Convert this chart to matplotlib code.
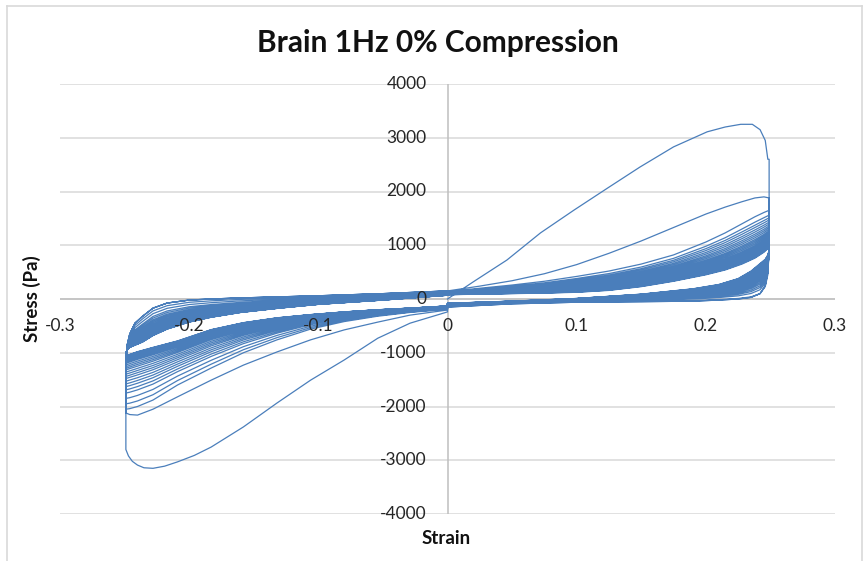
import matplotlib.pyplot as plt
from matplotlib.transforms import offset_copy

# --- strain nodes (shared by every cycle) ---
# positive half, strain increasing towards +0.25
strain_load_pos = [0.0, 0.025, 0.05, 0.075, 0.1, 0.125, 0.15, 0.175, 0.2, 0.215, 0.228, 0.238, 0.245, 0.249]
# positive half, strain decreasing from +0.25
strain_unload_pos = [0.249, 0.249, 0.248, 0.246, 0.242, 0.235, 0.225, 0.21, 0.19, 0.15, 0.1, 0.05, 0.0]
# negative half, strain decreasing towards -0.25
strain_load_neg = [0.0, -0.029, -0.054, -0.080, -0.106, -0.132, -0.158, -0.183, -0.209, -0.228, -0.240, -0.246, -0.249]
# negative half, strain increasing from -0.25
strain_unload_neg = [-0.249, -0.249, -0.248, -0.246, -0.242, -0.236, -0.228, -0.217, -0.2, -0.183, -0.16, -0.13, -0.1, -0.05, 0.0]

# --- first cycle (Pa) ---
strain_first_up = [0.0, 0.02, 0.046, 0.072, 0.098, 0.124, 0.149, 0.175, 0.201, 0.215, 0.227, 0.236, 0.242, 0.246, 0.248]
stress_first_up = [0, 320, 725, 1230, 1655, 2065, 2455, 2830, 3110, 3200, 3250, 3250, 3150, 2950, 2600]
stress_first_unload_pos = [2600, 1000, 500, 250, 100, 30, 0, -20, -40, -50, -60, -90, -150]
strain_first_down = [0.0, -0.029, -0.054, -0.080, -0.106, -0.132, -0.158, -0.183, -0.196, -0.209,
                     -0.219, -0.228, -0.235, -0.240, -0.244, -0.247, -0.249]
stress_first_down = [-240, -450, -730, -1135, -1510, -1935, -2380, -2755, -2910, -3030,
                     -3110, -3150, -3140, -3090, -3020, -2920, -2800]
stress_first_unload_neg = [-2800, -1300, -855, -650, -450, -320, -170, -75, -20, 0, 20, 40, 60, 100, 150]

# --- second cycle ---
stress_c2_load_pos = [150, 240, 340, 470, 640, 850, 1080, 1330, 1580, 1710, 1810, 1880, 1900, 1880]
stress_c2_unload_pos = [1880, 1000, 500, 250, 100, 30, 0, -20, -40, -50, -60, -90, -150]
stress_c2_load_neg = [-205, -300, -430, -575, -760, -985, -1230, -1510, -1820, -2050, -2160, -2150, -2120]
stress_c2_unload_neg = [-2120, -1300, -855, -650, -450, -320, -170, -75, -20, 0, 20, 40, 60, 100, 150]

# --- outer edge of the settled bundle (third cycle) ---
stress_top_load_pos = [140, 200, 260, 330, 420, 520, 650, 820, 1060, 1230, 1400, 1530, 1610, 1650]
stress_top_unload_pos = [1650, 900, 450, 230, 100, 40, 10, -10, -30, -40, -50, -80, -140]
stress_top_load_neg = [-190, -250, -320, -420, -560, -760, -1000, -1285, -1600, -1880, -2000, -2040, -2050]
stress_top_unload_neg = [-2050, -1300, -855, -650, -450, -320, -170, -75, -20, 0, 20, 40, 60, 100, 150]

# --- last cycle ---
stress_last_load_pos = [80, 90, 100, 110, 125, 160, 230, 330, 450, 540, 650, 760, 870, 960]
stress_last_unload_pos = [960, 900, 820, 740, 660, 520, 380, 270, 190, 90, 10, -40, -80]
stress_last_load_neg = [-130, -170, -200, -240, -290, -350, -440, -570, -780, -900, -980, -1030, -1060]
stress_last_unload_neg = [-1060, -1000, -950, -900, -860, -800, -680, -560, -430, -340, -250, -170, -100, -20, 70]

# peak stress at +0.25 and -0.25 for cycles 3 onwards
peak_pos = [1650, 1560, 1510, 1470, 1430, 1395, 1360, 1330, 1300, 1270, 1245, 1220, 1195, 1170,
            1150, 1130, 1110, 1090, 1070, 1055, 1040, 1025, 1010, 1000, 990, 980, 970, 960]
peak_neg = [-2050, -1950, -1850, -1750, -1690, -1630, -1580, -1530, -1480, -1440, -1400, -1360, -1320, -1290,
            -1260, -1230, -1200, -1180, -1160, -1140, -1120, -1100, -1090, -1080, -1075, -1070, -1065, -1060]

y_ticks = [-4000, -3000, -2000, -1000, 0, 1000, 2000, 3000, 4000]
x_ticks = [-0.3, -0.2, -0.1, 0, 0.1, 0.2, 0.3]


def mix(a, b, w):
    return [w * p + (1 - w) * q for p, q in zip(a, b)]


# assemble the full strain / stress record
strain = []
stress = []

def add(xs, ys):
    strain.extend(xs)
    stress.extend(ys)

add(strain_first_up, stress_first_up)
add(strain_unload_pos, stress_first_unload_pos)
add(strain_first_down, stress_first_down)
add(strain_unload_neg, stress_first_unload_neg)

add(strain_load_pos, stress_c2_load_pos)
add(strain_unload_pos, stress_c2_unload_pos)
add(strain_load_neg, stress_c2_load_neg)
add(strain_unload_neg, stress_c2_unload_neg)

for pp, pn in zip(peak_pos, peak_neg):
    wp = (pp - stress_last_load_pos[-1]) / (stress_top_load_pos[-1] - stress_last_load_pos[-1])
    wn = (pn - stress_last_load_neg[-1]) / (stress_top_load_neg[-1] - stress_last_load_neg[-1])
    add(strain_load_pos, mix(stress_top_load_pos, stress_last_load_pos, wp))
    add(strain_unload_pos, mix(stress_top_unload_pos, stress_last_unload_pos, wp))
    add(strain_load_neg, mix(stress_top_load_neg, stress_last_load_neg, wn))
    add(strain_unload_neg, mix(stress_top_unload_neg, stress_last_unload_neg, wn))

plt.rcParams['font.family'] = ['Lato', 'DejaVu Sans']

fig = plt.figure(figsize=(8.64, 5.61), dpi=100)
ax = fig.add_axes([60 / 864, 47 / 561, 775 / 864, 430 / 561])
ax.set_xlim(-0.3, 0.3)
ax.set_ylim(-4000, 4000)
ax.axis('off')

# chart border
for xs, ys in [([7, 7], [0, 555]), ([7, 862], [555, 555]), ([862, 862], [0, 555])]:
    fig.add_artist(plt.Line2D([x / 864 for x in xs], [y / 561 for y in ys],
                              color='#D9D9D9', lw=1.2))

# gridlines and axes crossing at zero
ax.hlines(y_ticks, -0.3, 0.3, color='#D9D9D9', lw=1.1, zorder=1)
ax.hlines(0, -0.3, 0.3, color='#BFBFBF', lw=1.1, zorder=1)
ax.vlines(0, -4000, 4000, color='#BFBFBF', lw=1.1, zorder=1)

ax.plot(strain, stress, color='#4A7EBB', lw=0.9, zorder=2)

# tick labels sit next to the zero lines
ytr = offset_copy(ax.transData, fig=fig, x=-15, y=0, units='points')
for v in y_ticks:
    ax.text(0, v, f'{v}', transform=ytr, ha='right', va='center',
            fontsize=12.5, color='#262626', zorder=3)
xtr = offset_copy(ax.transData, fig=fig, x=0, y=-19.5, units='points')
for v in x_ticks:
    ax.text(v, 0, f'{v:g}', transform=xtr, ha='center', va='center',
            fontsize=12.5, color='#262626', zorder=3)

fig.text(438 / 864, 1 - 43 / 561, 'Brain 1Hz 0% Compression', ha='center', va='center',
         fontsize=21.5, fontweight='bold', color='#111111')
fig.text(446 / 864, 1 - 538 / 561, 'Strain', ha='center', va='center',
         fontsize=13.5, fontweight='bold', color='#111111')
fig.text(32 / 864, 1 - 299 / 561, 'Stress (Pa)', ha='center', va='center', rotation=90,
         fontsize=13.5, fontweight='bold', color='#111111')

fig.savefig('out.png', dpi=100)
